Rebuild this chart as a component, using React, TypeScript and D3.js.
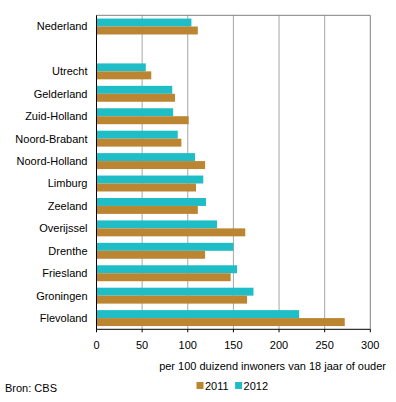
import React from "react";
import * as d3 from "d3";

// categorieën (lege regel tussen Nederland en de provincies)
const categorieen = [
  "Nederland",
  " ",
  "Utrecht",
  "Gelderland",
  "Zuid-Holland",
  "Noord-Brabant",
  "Noord-Holland",
  "Limburg",
  "Zeeland",
  "Overijssel",
  "Drenthe",
  "Friesland",
  "Groningen",
  "Flevoland",
];
const waarden2011 = [111, null, 60, 86, 101, 93, 119, 109, 111, 163, 119, 147, 165, 272];
const waarden2012 = [104, null, 54, 83, 84, 89, 108, 117, 120, 132, 150, 154, 172, 222];
const jaren = ["2011", "2012"];
const kleuren = ["#bb8532", "#1fbdc6"];
const xTicks = [0, 50, 100, 150, 200, 250, 300];

const FONT = "'Liberation Sans', Arial, sans-serif";
const FS = 11;

export default function App() {
  const width = 396;
  const height = 402;
  const left = 96.5;
  const right = 370.3;
  const top = 15.3;
  const bottom = 329.3;

  const x = d3.scaleLinear().domain([0, 300]).range([left, right]);
  const y = d3
    .scaleBand()
    .domain(categorieen)
    .range([top, bottom])
    .paddingInner(0.29)
    .paddingOuter(0.145);
  const half = y.bandwidth() / 2;

  return (
    <svg
      width={width}
      height={height}
      style={{ position: "absolute", left: 0, top: 0, background: "#fff" }}
      fontFamily={FONT}
    >
      {/* rasterlijnen */}
      {xTicks.slice(1, -1).map((t) => (
        <line key={t} x1={x(t)} x2={x(t)} y1={top} y2={bottom} stroke="#a6a6a6" strokeWidth={1} />
      ))}
      <line x1={left} x2={right} y1={top} y2={top} stroke="#808080" />
      <line x1={right} x2={right} y1={top} y2={bottom} stroke="#808080" />

      {/* staven */}
      {categorieen.map((c, i) => {
        const y0 = y(c)!;
        return (
          <g key={c}>
            {waarden2012[i] != null && (
              <rect x={x(0)} y={y0} width={x(waarden2012[i]!) - x(0)} height={half} fill={kleuren[1]} />
            )}
            {waarden2011[i] != null && (
              <rect x={x(0)} y={y0 + half} width={x(waarden2011[i]!) - x(0)} height={half} fill={kleuren[0]} />
            )}
            {c.trim() !== "" && (
              <text x={87.5} y={y0 + half} dy="0.35em" textAnchor="end" fontSize={FS} fill="#000">
                {c}
              </text>
            )}
          </g>
        );
      })}

      {/* assen */}
      <line x1={left} x2={left} y1={top} y2={bottom} stroke="#000" />
      <line x1={left} x2={right} y1={bottom} y2={bottom} stroke="#000" />
      {xTicks.map((t) => (
        <g key={t}>
          <line x1={x(t)} x2={x(t)} y1={bottom} y2={bottom + 3} stroke="#000" />
          <text x={x(t)} y={345} dy="0.35em" textAnchor="middle" fontSize={FS} fill="#000">
            {t}
          </text>
        </g>
      ))}
      <text x={386} y={366} dy="0.35em" textAnchor="end" fontSize={FS} fill="#000">
        per 100 duizend inwoners van 18 jaar of ouder
      </text>

      {/* legenda */}
      {jaren.map((j, i) => (
        <g key={j} transform={`translate(${196.5 + i * 38.6},382)`}>
          <rect x={0} y={0} width={7} height={7} fill={kleuren[i]} />
          <text x={8.5} y={3.8} dy="0.35em" fontSize={FS} fill="#000">
            {j}
          </text>
        </g>
      ))}
      <text x={5} y={388} dy="0.35em" fontSize={FS} fill="#000">
        Bron: CBS
      </text>
    </svg>
  );
}
